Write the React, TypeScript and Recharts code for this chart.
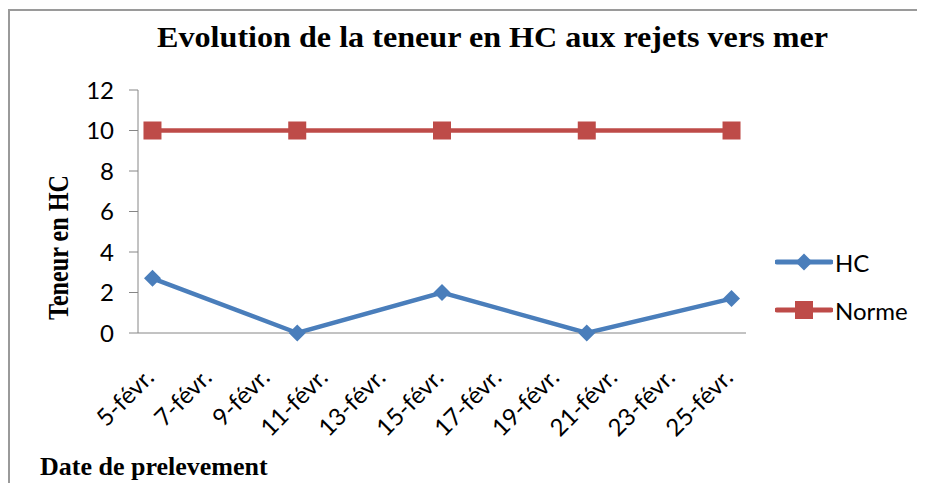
import { LineChart, Line, XAxis, YAxis, Legend } from 'recharts'

const days = [5, 10, 15, 20, 25]
const hcValues = [2.7, 0, 2, 0, 1.7]
const normeValues = [10, 10, 10, 10, 10]
const dayTicks = [5, 7, 9, 11, 13, 15, 17, 19, 21, 23, 25]
const yTicks = [0, 2, 4, 6, 8, 10, 12]
const monthLabel = 'févr.'

const data = days.map((d, i) => ({ day: d, HC: hcValues[i], Norme: normeValues[i] }))

const BLUE = '#4A7EBB'
const RED = '#BE4B48'
const AXIS = '#868686'
const TICK_FONT = 'Lato, "Noto Sans", sans-serif'
const SERIF = '"Liberation Serif", "Times New Roman", serif'

function DiamondDot(props: any) {
  const { cx, cy } = props
  if (cx == null || cy == null) return null
  const r = 8.5
  return <polygon points={`${cx},${cy - r} ${cx + r},${cy} ${cx},${cy + r} ${cx - r},${cy}`} fill={BLUE} />
}

function SquareDot(props: any) {
  const { cx, cy } = props
  if (cx == null || cy == null) return null
  return <rect x={cx - 9} y={cy - 9} width={18} height={18} fill={RED} />
}

function DateTick({ x, y, payload }: any) {
  const ax = x + 3
  const ay = y + 46
  return (
    <text x={ax} y={ay} textAnchor="end" fontSize={24} fontFamily={TICK_FONT} fill="#000"
      transform={`rotate(-45, ${ax}, ${ay})`}>
      {`${payload.value}-${monthLabel}`}
    </text>
  )
}

function LegendContent() {
  const items = [
    { name: 'HC', color: BLUE, shape: 'diamond' },
    { name: 'Norme', color: RED, shape: 'square' },
  ]
  return (
    <div>
      {items.map(it => (
        <div key={it.name} style={{ display: 'flex', alignItems: 'center', height: 48 }}>
          <svg width={58} height={20}>
            <line x1={2} y1={10} x2={56} y2={10} stroke={it.color} strokeWidth={5} strokeLinecap="round" />
            {it.shape === 'diamond'
              ? <polygon points="29,1.5 37.5,10 29,18.5 20.5,10" fill={it.color} />
              : <rect x={20} y={1} width={18} height={18} fill={it.color} />}
          </svg>
          <span style={{ fontFamily: TICK_FONT, fontSize: 24, color: '#000', marginLeft: 2 }}>{it.name}</span>
        </div>
      ))}
    </div>
  )
}

export default function App() {
  return (
    <div style={{ position: 'relative', width: 925, height: 491, margin: -8, background: '#fff', overflow: 'hidden' }}>
      <div style={{ position: 'absolute', left: 8, top: 9, width: 940, height: 520, borderTop: '2px solid #9a9a9a', borderLeft: '2px solid #9a9a9a' }} />
      <div style={{ position: 'absolute', left: 0, top: 0 }}>
        <LineChart width={925} height={491} data={data} margin={{ top: 90, right: 179, bottom: 58, left: 78 }}>
          <XAxis type="number" dataKey="day" domain={[4.5, 25.5]} ticks={dayTicks} interval={0}
            allowDataOverflow tick={<DateTick />} tickLine={false} tickSize={0} tickMargin={0}
            height={100} stroke={AXIS} />
          <YAxis domain={[0, 12]} ticks={yTicks} interval={0} width={60} tickSize={9} tickMargin={15}
            stroke={AXIS} tick={{ fontSize: 24, fontFamily: TICK_FONT, fill: '#000' }} />
          <Legend layout="vertical" align="center" verticalAlign="middle" content={<LegendContent />}
            wrapperStyle={{ left: 775, top: 238, width: 150 }} />
          <Line dataKey="HC" stroke={BLUE} strokeWidth={4.5} dot={<DiamondDot />} isAnimationActive={false} />
          <Line dataKey="Norme" stroke={RED} strokeWidth={4.5} dot={<SquareDot />} isAnimationActive={false} />
        </LineChart>
      </div>
      <svg width={925} height={491} style={{ position: 'absolute', left: 0, top: 0, pointerEvents: 'none' }}>
        <text x={157} y={47} fontFamily={SERIF} fontWeight="bold" fontSize={30} textLength={671}
          lengthAdjust="spacingAndGlyphs">Evolution de la teneur en HC aux  rejets vers mer</text>
        <text x={68} y={320} fontFamily={SERIF} fontWeight="bold" fontSize={30} textLength={145}
          lengthAdjust="spacingAndGlyphs" transform="rotate(-90, 68, 320)">Teneur en HC</text>
        <text x={40} y={475} fontFamily={SERIF} fontWeight="bold" fontSize={26}>Date de prelevement</text>
      </svg>
    </div>
  )
}
